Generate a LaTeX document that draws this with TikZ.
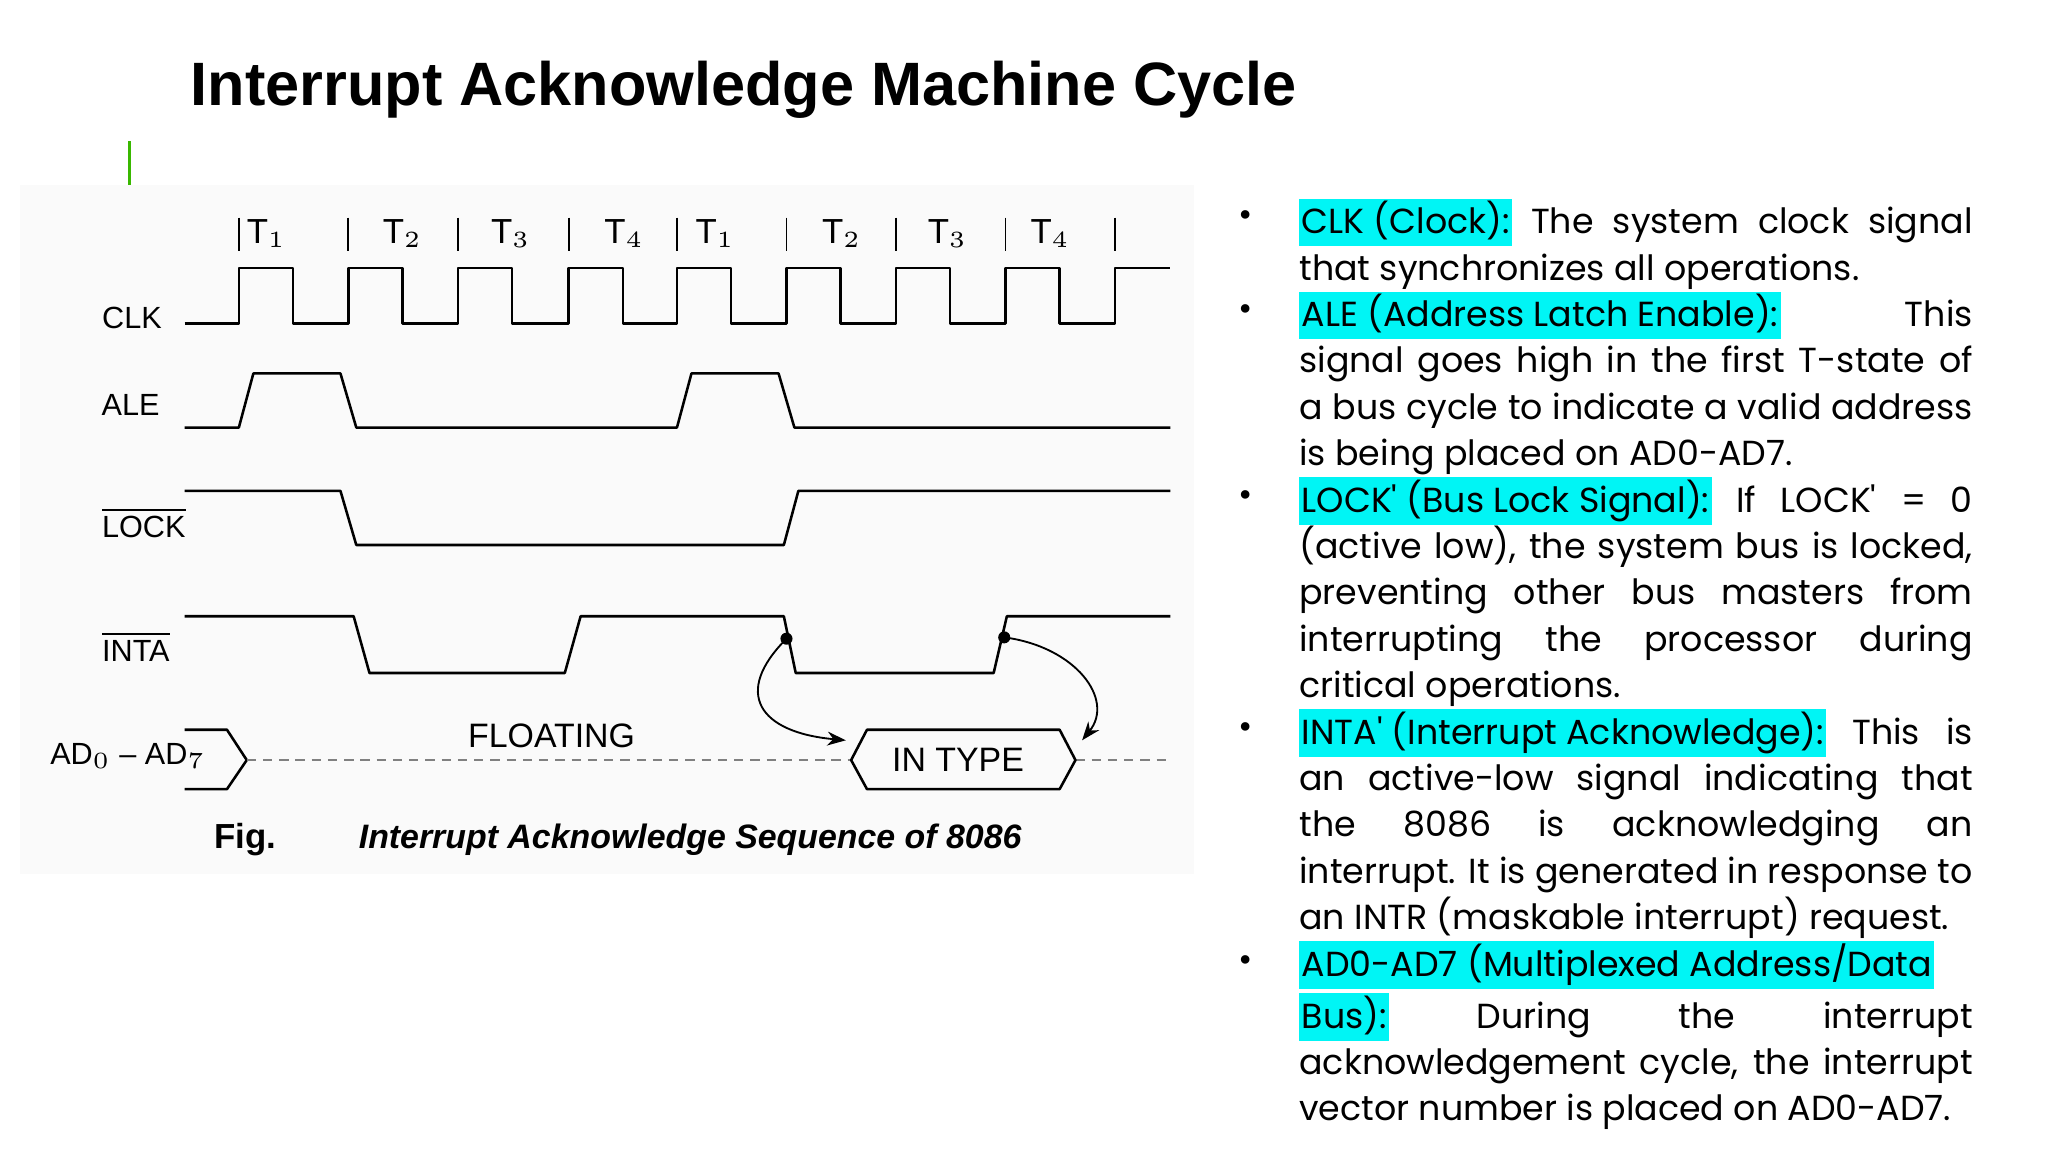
\documentclass[tikz,border=0pt]{standalone}
\usepackage{fontspec}
\setmainfont{Liberation Sans}
\newfontfamily\pop{Poppins}
\usetikzlibrary{arrows.meta}
\definecolor{hlc}{HTML}{00F5F5}
\newcommand\hl[1]{{\setlength\fboxsep{0.5pt}\colorbox{hlc}{\vrule height 6.8pt depth 2.2pt width 0pt #1}}}
\begin{document}
\begin{tikzpicture}[x=0.01cm,y=-0.01cm,
  sig/.style={line width=0.55pt,line join=round},
  lab/.style={font=\fontsize{6.6}{7}\selectfont},
  tick/.style={line width=0.4pt},
  bul/.style={font=\pop\fontsize{7.5}{10}\selectfont},
  para/.style={font=\pop\fontsize{7.5}{10}\selectfont\parindent0pt\hyphenpenalty10000\emergencystretch3em}]
\useasboundingbox (0,0) rectangle (1552,873);
\fill[black!2] (15,140) rectangle (905,662);
\node[anchor=west,font=\bfseries\fontsize{13.2}{15}\selectfont] (title) at (132,68) {Interrupt Acknowledge Machine Cycle};
\draw[green!60!black!70!lime,line width=0.6pt] (98,107) -- (98,140);
% ticks and T labels
\foreach \x in {181,264,347,431,513,596,679,762,845} \draw[tick] (\x,165) -- (\x,190);
\foreach \x/\t in {202/1,305/2,387/3,473/4,542/1,638/2,718/3,796/4}
  \node[lab,font=\fontsize{7.5}{8}\selectfont] (t\x) at (\x,177) {T$_{\t}$};
% labels
\node[lab] (lclk) at (100,241) {CLK};
\node[lab] (lale) at (99,307) {ALE};
\node[lab] (llock) at (109,396) {$\overline{\mbox{LOCK}}$};
\node[lab] (linta) at (103,490) {$\overline{\mbox{INTA}}$};
\node[lab] (lad) at (97,573) {AD$_0$ -- AD$_7$};
% CLK
\draw[sig] (140,245) -- (181,245)
 \foreach \x in {181,264,347,431,513,596,679,762} {-- (\x,245) -- (\x,203) -- (\x+41,203) -- (\x+41,245)} -- (845,245) -- (845,203) -- (887,203);
% ALE
\draw[sig] (140,324) -- (181,324) -- (192,283) -- (258,283) -- (270,324) -- (513,324) -- (524,283) -- (590,283) -- (602,324) -- (887,324);
% LOCK
\draw[sig] (140,372) -- (258,372) -- (270,413) -- (594,413) -- (605,372) -- (887,372);
% INTA
\draw[sig] (140,467) -- (268,467) -- (280,510) -- (428,510) -- (440,467) -- (594,467) -- (603,510) -- (753,510) -- (763,467) -- (887,467);
\coordinate (d1) at (596,484);
\coordinate (d2) at (761,483);
\fill (d1) circle (1.3pt);
\fill (d2) circle (1.3pt);
% AD bus
\draw[sig] (140,553) -- (172,553) -- (187,576) -- (172,598) -- (140,598);
\draw[sig,dash pattern=on 2pt off 1.5pt,gray] (187,576) -- (645,576);
\draw[sig,dash pattern=on 2pt off 1.5pt,gray] (815,576) -- (887,576);
\draw[sig] (645,576) -- (657,553) -- (803,553) -- (815,576) -- (803,598) -- (657,598) -- cycle;
\node[lab,font=\fontsize{7.3}{8}\selectfont] (intype) at (726,576) {IN TYPE};
\node[lab,font=\fontsize{7.3}{8}\selectfont] (float) at (418,558) {FLOATING};
\draw[-{Stealth[length=4pt]},line width=0.4pt] (d1) .. controls (555,525) and (575,555) .. (641,561);
\draw[-{Stealth[length=4pt]},line width=0.4pt] (d2) .. controls (815,490) and (845,530) .. (820,561);
\node[font=\bfseries\fontsize{7.5}{8}\selectfont] (fig) at (186,636) {Fig.};
\node[font=\bfseries\itshape\fontsize{7.3}{8}\selectfont] (cap) at (523,636) {Interrupt Acknowledge Sequence of 8086};
% bullets
\foreach \y in {166,237,378,554,730} \node[bul] at (944,\y) {•};
\node[anchor=north west,inner sep=0pt,text width=5.1cm,align=justify,para] (txt) at (984,150) {\hl{CLK (Clock):} The system clock signal\linebreak that synchronizes all operations.\par
\hl{ALE (Address Latch Enable):} This\linebreak signal goes high in the first T-state of\linebreak a bus cycle to indicate a valid address\linebreak is being placed on AD0-AD7.\par
\hl{LOCK' (Bus Lock Signal):} If LOCK' = 0\linebreak (active low), the system bus is locked,\linebreak preventing other bus masters from\linebreak interrupting the processor during\linebreak critical operations.\par
\hl{INTA' (Interrupt Acknowledge):} This is\linebreak an active-low signal indicating that\linebreak the 8086 is acknowledging an\linebreak interrupt. It is generated in response to\linebreak an INTR (maskable interrupt) request.\par
\hl{AD0-AD7 (Multiplexed Address/Data}\linebreak \hl{Bus):} During the interrupt\linebreak acknowledgement cycle, the interrupt\linebreak vector number is placed on AD0-AD7.\par};
\end{tikzpicture}
\end{document}
